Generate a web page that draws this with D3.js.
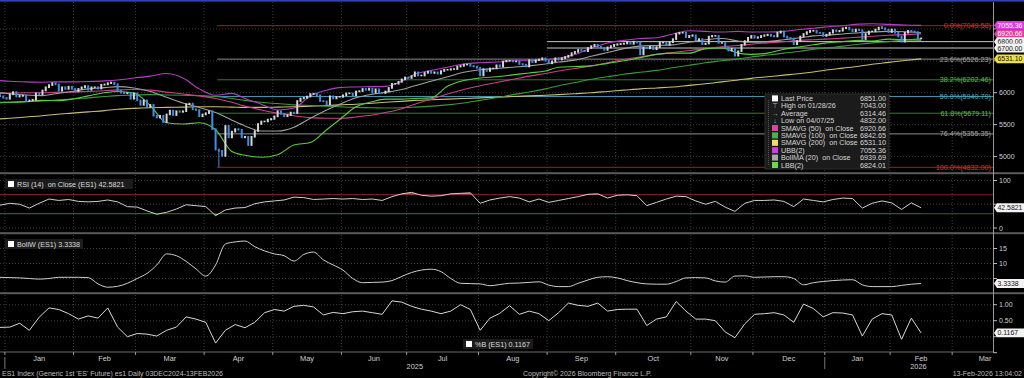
<!DOCTYPE html>
<html>
<head>
<meta charset="utf-8">
<script src="https://cdn.jsdelivr.net/npm/d3@7"></script>
<style>
  body { margin: 0; background: #000; }
  svg { display: block; font-family: "Liberation Sans", Arial, sans-serif; }
</style>
</head>
<body>
<svg id="chart" width="1024" height="378"></svg>
<script>
// ---- data ----
const holidays = ["2025-01-01","2025-01-20","2025-02-17","2025-04-18","2025-05-26","2025-06-19",
  "2025-07-04","2025-09-01","2025-11-27","2025-12-25","2026-01-01","2026-01-19","2026-02-16"];

const prevClose = 5965;
// daily closes, one row per week, 30 Dec 2024 .. 13 Feb 2026
const closes = [
  5945, 5920,
  5905, 5975,
  6010, 5940, 5950, 5955, 5870,
  5880, 5890, 5990, 5975, 6035,
  6085, 6120, 6150, 6130,
  6030, 6085, 6060, 6095, 6060,
  6020, 6060, 6085, 6105, 6045,
  6085, 6085, 6065, 6125, 6130,
  6150, 6160, 6135, 6030,
  6000, 5990, 5995, 5905, 5990,
  5880, 5810, 5880, 5780, 5810,
  5640, 5610, 5640, 5540, 5660,
  5720, 5650, 5710, 5700, 5710,
  5820, 5830, 5740, 5730, 5630,
  5660,
  5680, 5710, 5430, 5110,
  5090, 5010, 5480, 5300, 5390,
  5430, 5420, 5300, 5310,
  5180, 5310, 5400, 5510, 5550,
  5550, 5580, 5590,
  5630, 5710,
  5670, 5630, 5650, 5690, 5680,
  5870, 5910, 5920, 5940, 5980,
  5985, 5960, 5870, 5865, 5820,
  5945, 5910, 5935, 5935,
  5960, 5990, 5990, 5960, 6020,
  6025, 6060, 6045, 6065, 6000,
  6055, 6000, 5995, 6020,
  6075, 6140, 6140, 6170, 6210,
  6240,
  6230, 6260, 6320,
  6270, 6270, 6310, 6330, 6310,
  6320, 6300, 6340, 6360, 6360,
  6370, 6370, 6410, 6420, 6440,
  6440, 6420, 6410, 6390,
  6270,
  6370, 6340, 6380, 6380, 6430,
  6410, 6490, 6500, 6500, 6490,
  6490, 6450, 6440, 6410, 6510,
  6480, 6510, 6520, 6540, 6500,
  6460, 6490, 6540, 6520,
  6540, 6560, 6580, 6620, 6640,
  6670, 6660, 6650, 6700, 6730,
  6750, 6720, 6700, 6670, 6710,
  6730, 6750,
  6760, 6765, 6770,
  6790, 6765, 6800, 6785, 6600,
  6705, 6695, 6720, 6680, 6715,
  6785, 6785, 6750, 6790, 6840,
  6925, 6940, 6940, 6870, 6890,
  6900, 6820, 6840, 6760, 6770,
  6880, 6890, 6890, 6780, 6780,
  6710, 6660, 6690, 6580, 6650,
  6750, 6810, 6860, 6890,
  6860, 6870, 6890, 6900, 6910,
  6890, 6880, 6940, 6960, 6880,
  6860, 6850, 6760, 6810, 6880,
  6920, 6950, 6970, 6970,
  6940, 6935, 6890,
  6910,
  6940, 6980, 6960, 6970, 7010,
  7020, 6990, 6960, 6990, 6980,
  6840, 6920, 6960, 6960,
  6990, 7020, 7010, 6990, 6950,
  6990, 6940, 6880, 6800, 6940,
  6970, 6960, 6950, 6850, 6851
];
const extremes = [{ day: "2025-04-07", low: 4832 }, { day: "2026-01-28", high: 7043 }];

// weekly readings of the overlay studies
const lineDates = ["2024-12-30","2025-01-03","2025-01-10","2025-01-17","2025-01-24","2025-01-31",
  "2025-02-07","2025-02-14","2025-02-21","2025-02-28","2025-03-07","2025-03-14","2025-03-21","2025-03-28",
  "2025-04-04","2025-04-11","2025-04-17","2025-04-25","2025-05-02","2025-05-09","2025-05-16","2025-05-23",
  "2025-05-30","2025-06-06","2025-06-13","2025-06-20","2025-06-27","2025-07-03","2025-07-11","2025-07-18",
  "2025-07-25","2025-08-01","2025-08-08","2025-08-15","2025-08-22","2025-08-29","2025-09-05","2025-09-12",
  "2025-09-19","2025-09-26","2025-10-03","2025-10-10","2025-10-17","2025-10-24","2025-10-31","2025-11-07",
  "2025-11-14","2025-11-21","2025-11-28","2025-12-05","2025-12-12","2025-12-19","2025-12-26","2026-01-02",
  "2026-01-09","2026-01-16","2026-01-23","2026-01-30","2026-02-06","2026-02-13"];
const sma50 = [5990,5995,6000,6000,6005,6010,6020,6030,6045,6050,6040,6010,5980,5950,5910,5850,5790,5730,
  5680,5640,5610,5600,5600,5620,5650,5690,5750,5820,5900,5980,6050,6110,6160,6210,6260,6300,6340,6380,6420,
  6470,6520,6560,6600,6630,6660,6690,6720,6740,6760,6780,6800,6820,6830,6840,6855,6870,6885,6900,6910,6921];
const sma100 = [5840,5850,5860,5870,5885,5900,5920,5940,5955,5965,5970,5965,5960,5955,5940,5910,5880,5850,
  5830,5810,5800,5790,5780,5770,5765,5760,5765,5775,5790,5810,5840,5880,5920,5970,6010,6060,6110,6160,6210,
  6250,6290,6320,6350,6390,6430,6470,6500,6530,6560,6590,6620,6650,6680,6700,6730,6760,6780,6800,6825,6843];
const sma200 = [5590,5600,5620,5640,5660,5680,5700,5720,5740,5755,5765,5770,5775,5780,5780,5775,5770,5770,
  5775,5780,5790,5800,5810,5820,5835,5850,5865,5880,5890,5900,5910,5920,5930,5940,5950,5960,5970,5985,6000,
  6020,6040,6060,6075,6090,6115,6140,6170,6200,6225,6250,6275,6300,6325,6355,6385,6415,6445,6475,6505,6531];
const bollMA = [6000,5985,5965,5955,5985,6020,6060,6080,6095,6075,6020,5930,5840,5770,5690,5570,5480,5400,
  5400,5460,5600,5730,5820,5920,5975,6005,6050,6110,6180,6250,6320,6360,6380,6400,6420,6450,6480,6510,6570,
  6630,6690,6730,6740,6750,6790,6830,6850,6810,6790,6800,6830,6860,6890,6900,6920,6940,6950,6960,6955,6940];
const ubb = [6190,6180,6170,6165,6170,6170,6175,6185,6200,6230,6260,6300,6230,6060,5960,5990,5910,5820,
  5730,5760,5950,6040,6080,6090,6095,6100,6180,6290,6350,6400,6450,6470,6480,6500,6500,6520,6540,6600,6700,
  6780,6820,6850,6860,6920,6970,6960,6950,6960,6950,6950,6960,6990,7010,7030,7050,7075,7080,7070,7060,7055];
const lbb = [5850,5850,5860,5880,5875,5900,5950,6000,6020,5995,5800,5530,5510,5530,5420,5080,5020,4990,
  5030,5180,5220,5420,5580,5780,5860,5900,5900,5910,5920,6100,6190,6230,6250,6280,6310,6340,6400,6410,6420,
  6460,6500,6550,6600,6620,6620,6690,6700,6620,6600,6620,6680,6720,6750,6780,6800,6820,6810,6840,6830,6824];

// lower panels, one reading every third session
const oscStep = 3;
const rsi = [48,52,50,42,52,61,58,60,56,55,56,59,55,45,44,36,29,33,40,49,47,45,26,38,42,43,51,55,57,59,
  65,64,60,61,62,61,62,60,61,58,66,72,75,69,67,68,72,73,74,52,59,63,66,63,55,61,54,58,62,66,71,72,63,69,
  70,68,47,54,61,67,66,57,50,56,44,35,52,58,58,59,56,45,61,58,55,60,63,62,42,52,57,53,39,53,42.5821];
const bollW = [5.4,5.3,5.2,5.0,4.8,5.0,5.4,5.4,5.4,5.3,3.2,2.1,2.4,3.4,5.0,6.7,9.5,13.2,12.6,10.7,8.2,
  5.8,9.5,16.5,17.2,17.5,15.6,14.2,13.2,12.6,10.8,13.0,13.8,11.2,9.5,7.8,5.0,3.6,3.7,3.8,4.3,5.7,7.0,7.8,
  8.1,7.3,5.0,3.4,3.3,3.2,2.6,3.0,3.4,3.5,3.7,3.9,2.8,2.3,2.3,3.4,4.5,5.4,5.6,5.2,4.3,3.6,3.2,3.1,3.1,
  4.0,5.2,5.3,5.2,4.2,3.8,5.8,5.9,5.4,5.5,5.6,5.6,5.0,2.9,3.6,4.0,4.3,4.5,4.6,2.9,2.3,2.3,2.3,2.7,3.1,3.3338];
const pctB = [0.29,0.30,0.42,0.20,0.61,0.90,0.85,0.72,0.55,0.65,0.58,0.90,0.30,0.00,0.10,0.08,0.02,0.20,
  0.30,0.62,0.55,0.45,-0.20,0.20,0.38,0.28,0.45,0.75,0.85,0.80,0.95,0.98,0.93,0.68,0.76,0.72,0.78,0.80,
  0.75,0.70,1.12,1.08,0.95,0.86,0.80,0.72,0.80,1.00,0.85,0.20,0.58,0.73,0.97,0.70,0.80,0.72,0.50,0.75,
  1.05,0.98,0.95,1.05,0.80,0.85,0.86,0.86,0.35,0.55,0.62,1.10,0.80,0.55,0.55,0.50,0.15,-0.03,0.40,0.70,
  0.72,0.75,0.68,0.45,1.02,0.88,0.62,0.75,0.74,0.68,0.02,0.55,0.72,0.68,-0.08,0.58,0.1167];

const fibPcts = ["0.0%", "23.6%", "38.2%", "50.0%", "61.8%", "76.4%", "100.0%"];
const fibValues = [7049.58, 6526.23, 6202.46, 5940.79, 5679.11, 5355.35, 4832.00];
const fibStart = "2025-04-07";
const levelLines = [6800, 6700];
const levelStart = "2025-09-02";

const legendNames = ["Last Price", "High on 01/28/26", "Average", "Low on 04/07/25", "SMAVG (50)  on Close",
  "SMAVG (100)  on Close", "SMAVG (200)  on Close", "UBB(2)", "BollMA (20)  on Close", "LBB(2)"];
const legendValues = ["6851.00", "7043.00", "6314.46", "4832.00", "6920.66", "6842.65", "6531.10",
  "7055.36", "6939.69", "6824.01"];
const monthNames = ["Jan","Feb","Mar","Apr","May","Jun","Jul","Aug","Sep","Oct","Nov","Dec"];

// ---- layout ----
const axisX = 993;
const panels = {
  main: [2, 172], rsi: [175, 232], bw: [235, 292], pb: [295, 351]
};
const col = {
  grid: "#3c3c3c", text: "#d0d0d0", up: "#d6d6d6", down: "#3f8fe6",
  sma50: "#c8408a", sma100: "#3a9a3a", sma200: "#c8bd72", ubb: "#b040c0", boll: "#a0a0a0", lbb: "#5ccc3c",
  red: "#a81c1c", gray: "#8c8c8c", green: "#2f7f2f", teal: "#3f93ad"
};
const fibColors = [col.red, col.gray, col.green, col.teal, col.green, col.gray, col.red];
const fibText = ["#e03030", "#a0a0a0", "#5cbf4c", "#4fb0d0", "#5cbf4c", "#a0a0a0", "#e03030"];
const legendSwatch = ["#ffffff", null, null, null, "#e0409e", "#4cb04c", "#ece060", "#d040e0", "#a8a8a8", "#60e040"];
const legendGlyph = [null, "\u22A4", "\u2192", "\u2193"];

// trading sessions (weekdays without exchange holidays) through end of March 2026
const fmtDay = d3.utcFormat("%Y-%m-%d");
const days = [];
for (let d = new Date(Date.UTC(2024, 11, 30)); d <= new Date(Date.UTC(2026, 2, 31)); d = d3.utcDay.offset(d, 1)) {
  const s = fmtDay(d), wd = d.getUTCDay();
  if (wd === 0 || wd === 6 || holidays.includes(s)) continue;
  days.push(s);
}
const dayIndex = new Map(days.map((s, i) => [s, i]));

const x = d3.scaleLinear().domain([0, 304]).range([0, axisX]);
const yMain = d3.scaleLinear().domain([4832, 7049.58]).range([167.3, 25.7]);
const yRsi = d3.scaleLinear().domain([0, 100]).range([228, 180.5]);
const yBw = d3.scaleLinear().domain([0, 15]).range([293.5, 248.5]);
const yPb = d3.scaleLinear().domain([0, 1]).range([336.7, 304.7]);

const svg = d3.select("#chart");
svg.append("rect").attr("width", 1024).attr("height", 378).attr("fill", "#000");

const defs = svg.append("defs");
Object.entries(panels).forEach(([k, [t, b]]) => {
  defs.append("clipPath").attr("id", "clip-" + k)
    .append("rect").attr("x", 0).attr("y", t).attr("width", axisX).attr("height", b - t);
});
defs.append("clipPath").attr("id", "clip-ob")
  .append("rect").attr("x", 0).attr("y", panels.rsi[0]).attr("width", axisX).attr("height", yRsi(70) - panels.rsi[0]);
defs.append("clipPath").attr("id", "clip-os")
  .append("rect").attr("x", 0).attr("y", yRsi(30)).attr("width", axisX).attr("height", panels.rsi[1] - yRsi(30));

// months
const months = d3.groups(days.map((s, i) => ({ s, i })), d => d.s.slice(0, 7))
  .map(([key, v]) => ({ key, first: v[0].i, last: v[v.length - 1].i }));
const bounds = months.filter(m => m.first > 0 && x(m.first - 0.5) < axisX);

// vertical gridlines at month starts, all panels
const grid = svg.append("g");
Object.values(panels).forEach(([t, b]) => {
  grid.selectAll(null).data(bounds).enter().append("line")
    .attr("x1", m => x(m.first - 0.5)).attr("x2", m => x(m.first - 0.5))
    .attr("y1", t).attr("y2", b)
    .attr("stroke", col.grid).attr("stroke-dasharray", "1,2");
});
function hGrid(scale, ticks) {
  grid.selectAll(null).data(ticks).enter().append("line")
    .attr("x1", 0).attr("x2", axisX)
    .attr("y1", d => scale(d)).attr("y2", d => scale(d))
    .attr("stroke", col.grid).attr("stroke-dasharray", "1,2");
}
hGrid(yMain, [5000, 5500, 6000, 6500, 7000]);
hGrid(yRsi, [0, 50, 100]);
hGrid(yBw, [5, 10, 15]);
hGrid(yPb, [0, 0.5, 1]);

// ---- main panel ----
const main = svg.append("g").attr("clip-path", "url(#clip-main)");
const fibX = x(dayIndex.get(fibStart) - 0.5);
main.selectAll(".fib").data(fibValues).enter().append("line")
  .attr("x1", fibX).attr("x2", axisX)
  .attr("y1", d => yMain(d)).attr("y2", d => yMain(d))
  .attr("stroke", (d, i) => fibColors[i]).attr("stroke-width", 1);
const lvX = x(dayIndex.get(levelStart) - 0.5);
main.selectAll(".lvl").data(levelLines).enter().append("line")
  .attr("x1", lvX).attr("x2", axisX)
  .attr("y1", d => yMain(d)).attr("y2", d => yMain(d))
  .attr("stroke", "#c8c8c8").attr("stroke-width", 1);

const studyLine = d3.line()
  .x((d, i) => x(dayIndex.get(lineDates[i])))
  .y(d => yMain(d))
  .curve(d3.curveMonotoneX);
[[sma200, col.sma200], [sma100, col.sma100], [sma50, col.sma50], [bollMA, col.boll], [lbb, col.lbb], [ubb, col.ubb]]
  .forEach(([data, c]) => {
    main.append("path").datum(data).attr("d", studyLine)
      .attr("fill", "none").attr("stroke", c).attr("stroke-width", 1.1);
  });

// candles
const candles = closes.map((c, i) => ({ i, open: i ? closes[i - 1] : prevClose, close: c }));
main.selectAll(".wick").data(extremes).enter().append("line")
  .attr("x1", d => x(dayIndex.get(d.day))).attr("x2", d => x(dayIndex.get(d.day)))
  .attr("y1", d => {
    const c = candles[dayIndex.get(d.day)];
    return yMain(d.low !== undefined ? Math.min(c.open, c.close) : Math.max(c.open, c.close));
  })
  .attr("y2", d => yMain(d.low !== undefined ? d.low : d.high))
  .attr("stroke", d => d.low !== undefined ? col.down : col.up).attr("stroke-width", 1);
main.selectAll(".candle").data(candles).enter().append("rect")
  .attr("x", d => x(d.i) - 1)
  .attr("width", 2)
  .attr("y", d => Math.min(yMain(d.open), yMain(d.close)) - 0.8)
  .attr("height", d => Math.abs(yMain(d.open) - yMain(d.close)) + 1.6)
  .attr("fill", d => d.close >= d.open ? col.up : col.down);

// fib labels
svg.selectAll(".fibLbl").data(fibValues).enter().append("text")
  .attr("x", axisX - 2).attr("y", d => yMain(d) + 2.4)
  .attr("text-anchor", "end").attr("font-size", 7.2)
  .attr("fill", (d, i) => fibText[i])
  .text((d, i) => `${fibPcts[i]}(${d.toFixed(2)})`);

// legend
const lg = svg.append("g").attr("font-size", 7.2);
lg.append("rect").attr("x", 765).attr("y", 94).attr("width", 124).attr("height", 75)
  .attr("fill", "#1b1b1b").attr("stroke", "#2e2e2e");
lg.append("line").attr("x1", 768.5).attr("x2", 768.5).attr("y1", 100).attr("y2", 166)
  .attr("stroke", "#555").attr("stroke-dasharray", "1,1");
legendNames.forEach((name, r) => {
  const yy = 101 + r * 7.4;
  if (legendSwatch[r]) {
    lg.append("rect").attr("x", 772).attr("y", yy - 5.6).attr("width", 6).attr("height", 6).attr("fill", legendSwatch[r]);
  } else {
    lg.append("text").attr("x", 775).attr("y", yy).attr("text-anchor", "middle").attr("fill", "#aaa").text(legendGlyph[r]);
  }
  lg.append("text").attr("x", 781).attr("y", yy).attr("fill", "#d8d8d8").attr("xml:space", "preserve").text(name);
  lg.append("text").attr("x", 886).attr("y", yy).attr("text-anchor", "end").attr("fill", "#d8d8d8").text(legendValues[r]);
});

// ---- RSI ----
const oscX = (d, k) => x(k * oscStep);
const rsiG = svg.append("g").attr("clip-path", "url(#clip-rsi)");
rsiG.append("line").attr("x1", 0).attr("x2", axisX).attr("y1", yRsi(70)).attr("y2", yRsi(70)).attr("stroke", "#8c1c1c");
rsiG.append("line").attr("x1", 0).attr("x2", axisX).attr("y1", yRsi(30)).attr("y2", yRsi(30)).attr("stroke", "#1f6e1f");
rsiG.append("path").datum(rsi).attr("clip-path", "url(#clip-ob)")
  .attr("d", d3.area().x(oscX).y0(yRsi(70)).y1(d => yRsi(d)))
  .attr("fill", "#b04848");
rsiG.append("path").datum(rsi).attr("clip-path", "url(#clip-os)")
  .attr("d", d3.area().x(oscX).y0(yRsi(30)).y1(d => yRsi(d)))
  .attr("fill", "#58b058");
rsiG.append("path").datum(rsi)
  .attr("d", d3.line().x(oscX).y(d => yRsi(d)))
  .attr("fill", "none").attr("stroke", "#cfcfcf").attr("stroke-width", 1);

// ---- BollW ----
svg.append("g").attr("clip-path", "url(#clip-bw)")
  .append("path").datum(bollW)
  .attr("d", d3.line().x(oscX).y(d => yBw(d)).curve(d3.curveMonotoneX))
  .attr("fill", "none").attr("stroke", "#cfcfcf").attr("stroke-width", 1);

// ---- %B ----
svg.append("g").attr("clip-path", "url(#clip-pb)")
  .append("path").datum(pctB)
  .attr("d", d3.line().x(oscX).y(d => yPb(d)))
  .attr("fill", "none").attr("stroke", "#d8d8d8").attr("stroke-width", 1);

// panel titles
function panelTitle(px, py, w, label) {
  const g = svg.append("g").attr("font-size", 7.2);
  g.append("rect").attr("x", px).attr("y", py).attr("width", w).attr("height", 10).attr("fill", "#1c1c1c");
  g.append("rect").attr("x", px + 3).attr("y", py + 2).attr("width", 6).attr("height", 6).attr("fill", "#fff");
  g.append("text").attr("x", px + 12).attr("y", py + 7.6).attr("fill", "#dcdcdc").attr("xml:space", "preserve").text(label);
}
panelTitle(5, 179, 128, "RSI (14)  on Close (ES1) 42.5821");
panelTitle(5, 239, 78, "BollW (ES1) 3.3338");
panelTitle(463, 339, 70, "%B (ES1) 0.1167");

// ---- frames ----
svg.append("rect").attr("x", 0).attr("y", 0).attr("width", 1024).attr("height", 1.6).attr("fill", "#2846b4");
[173.2, 233.2, 293.2].forEach(yy => {
  svg.append("rect").attr("x", 0).attr("y", yy - 1).attr("width", 1024).attr("height", 2).attr("fill", "#5a5a5a");
});
svg.append("line").attr("x1", 0).attr("x2", axisX).attr("y1", 352).attr("y2", 352).attr("stroke", "#6a6a6a");
svg.append("line").attr("x1", axisX + 0.5).attr("x2", axisX + 0.5).attr("y1", 2).attr("y2", 352).attr("stroke", "#9a9a9a");

// right axes (labels that sit under a value tag are left out, as on the terminal)
function rightAxis(scale, ticks, labelled, fmt) {
  const g = svg.append("g").attr("font-size", 7).attr("fill", col.text);
  ticks.forEach(t => {
    g.append("line").attr("x1", axisX).attr("x2", axisX + 4).attr("y1", scale(t)).attr("y2", scale(t)).attr("stroke", "#bbb");
    if (labelled.includes(t)) g.append("text").attr("x", axisX + 6).attr("y", scale(t) + 2.5).text(fmt(t));
  });
}
rightAxis(yMain, [5000, 5500, 6000, 6500, 7000], [5000, 5500, 6000], d3.format("d"));
rightAxis(yRsi, [0, 50, 100], [0, 100], d3.format("d"));
rightAxis(yBw, [5, 10, 15], [10, 15], d3.format("d"));
rightAxis(yPb, [-0.5, 0, 0.5, 1], [0.5, 1], d3.format(".2f"));

// value tags
function tag(yy, label, bg, fg) {
  const g = svg.append("g");
  g.append("path")
    .attr("d", `M${axisX + 1},${yy} L${axisX + 4},${yy - 4.4} L1024,${yy - 4.4} L1024,${yy + 4.4} L${axisX + 4},${yy + 4.4} Z`)
    .attr("fill", bg);
  g.append("text").attr("x", axisX + 4.5).attr("y", yy + 2.5).attr("font-size", 6.9).attr("fill", fg).text(label);
}
tag(yMain(6920.66), "6920.66", "#e0409e", "#fff");
tag(yMain(7055.36), "7055.36", "#dc3cdc", "#fff");
tag(yMain(6800), "6800.00", "#f2f2f2", "#111");
tag(yMain(6700), "6700.00", "#f2f2f2", "#111");
tag(yMain(6531.10), "6531.10", "#ece04a", "#111");
tag(yRsi(42.5821), "42.5821", "#f2f2f2", "#111");
tag(yBw(3.3338), "3.3338", "#f2f2f2", "#111");
tag(yPb(0.1167), "0.1167", "#f2f2f2", "#111");

// ---- x axis ----
const xa = svg.append("g").attr("font-size", 7.4).attr("fill", col.text).attr("text-anchor", "middle");
bounds.forEach(m => {
  xa.append("line").attr("x1", x(m.first - 0.5)).attr("x2", x(m.first - 0.5)).attr("y1", 352).attr("y2", 355).attr("stroke", "#999");
});
bounds.forEach(m => {
  const cx = Math.min(x((m.first + m.last) / 2), axisX - 8);
  xa.append("text").attr("x", cx).attr("y", 360.5).text(monthNames[+m.key.slice(5) - 1]);
});
const yearStarts = bounds.filter(m => m.key.endsWith("-01")).map(m => x(m.first - 0.5));
yearStarts.forEach(xx => {
  xa.append("line").attr("x1", xx).attr("x2", xx).attr("y1", 357).attr("y2", 369).attr("stroke", "#777");
});
xa.append("text").attr("x", (yearStarts[0] + yearStarts[1]) / 2).attr("y", 368.5).text("2025");
xa.append("text").attr("x", (yearStarts[1] + 1012) / 2).attr("y", 368.5).text("2026");

// footer
const ft = svg.append("g").attr("font-size", 7).attr("fill", "#bdbdbd");
ft.append("text").attr("x", 2).attr("y", 376).text("ES1 Index (Generic 1st 'ES' Future) es1 Daily 03DEC2024-13FEB2026");
ft.append("text").attr("x", 523).attr("y", 376).text("Copyright\u00A9 2026 Bloomberg Finance L.P.");
ft.append("text").attr("x", 1022).attr("y", 376).attr("text-anchor", "end").text("13-Feb-2026 13:04:02");
</script>
</body>
</html>
